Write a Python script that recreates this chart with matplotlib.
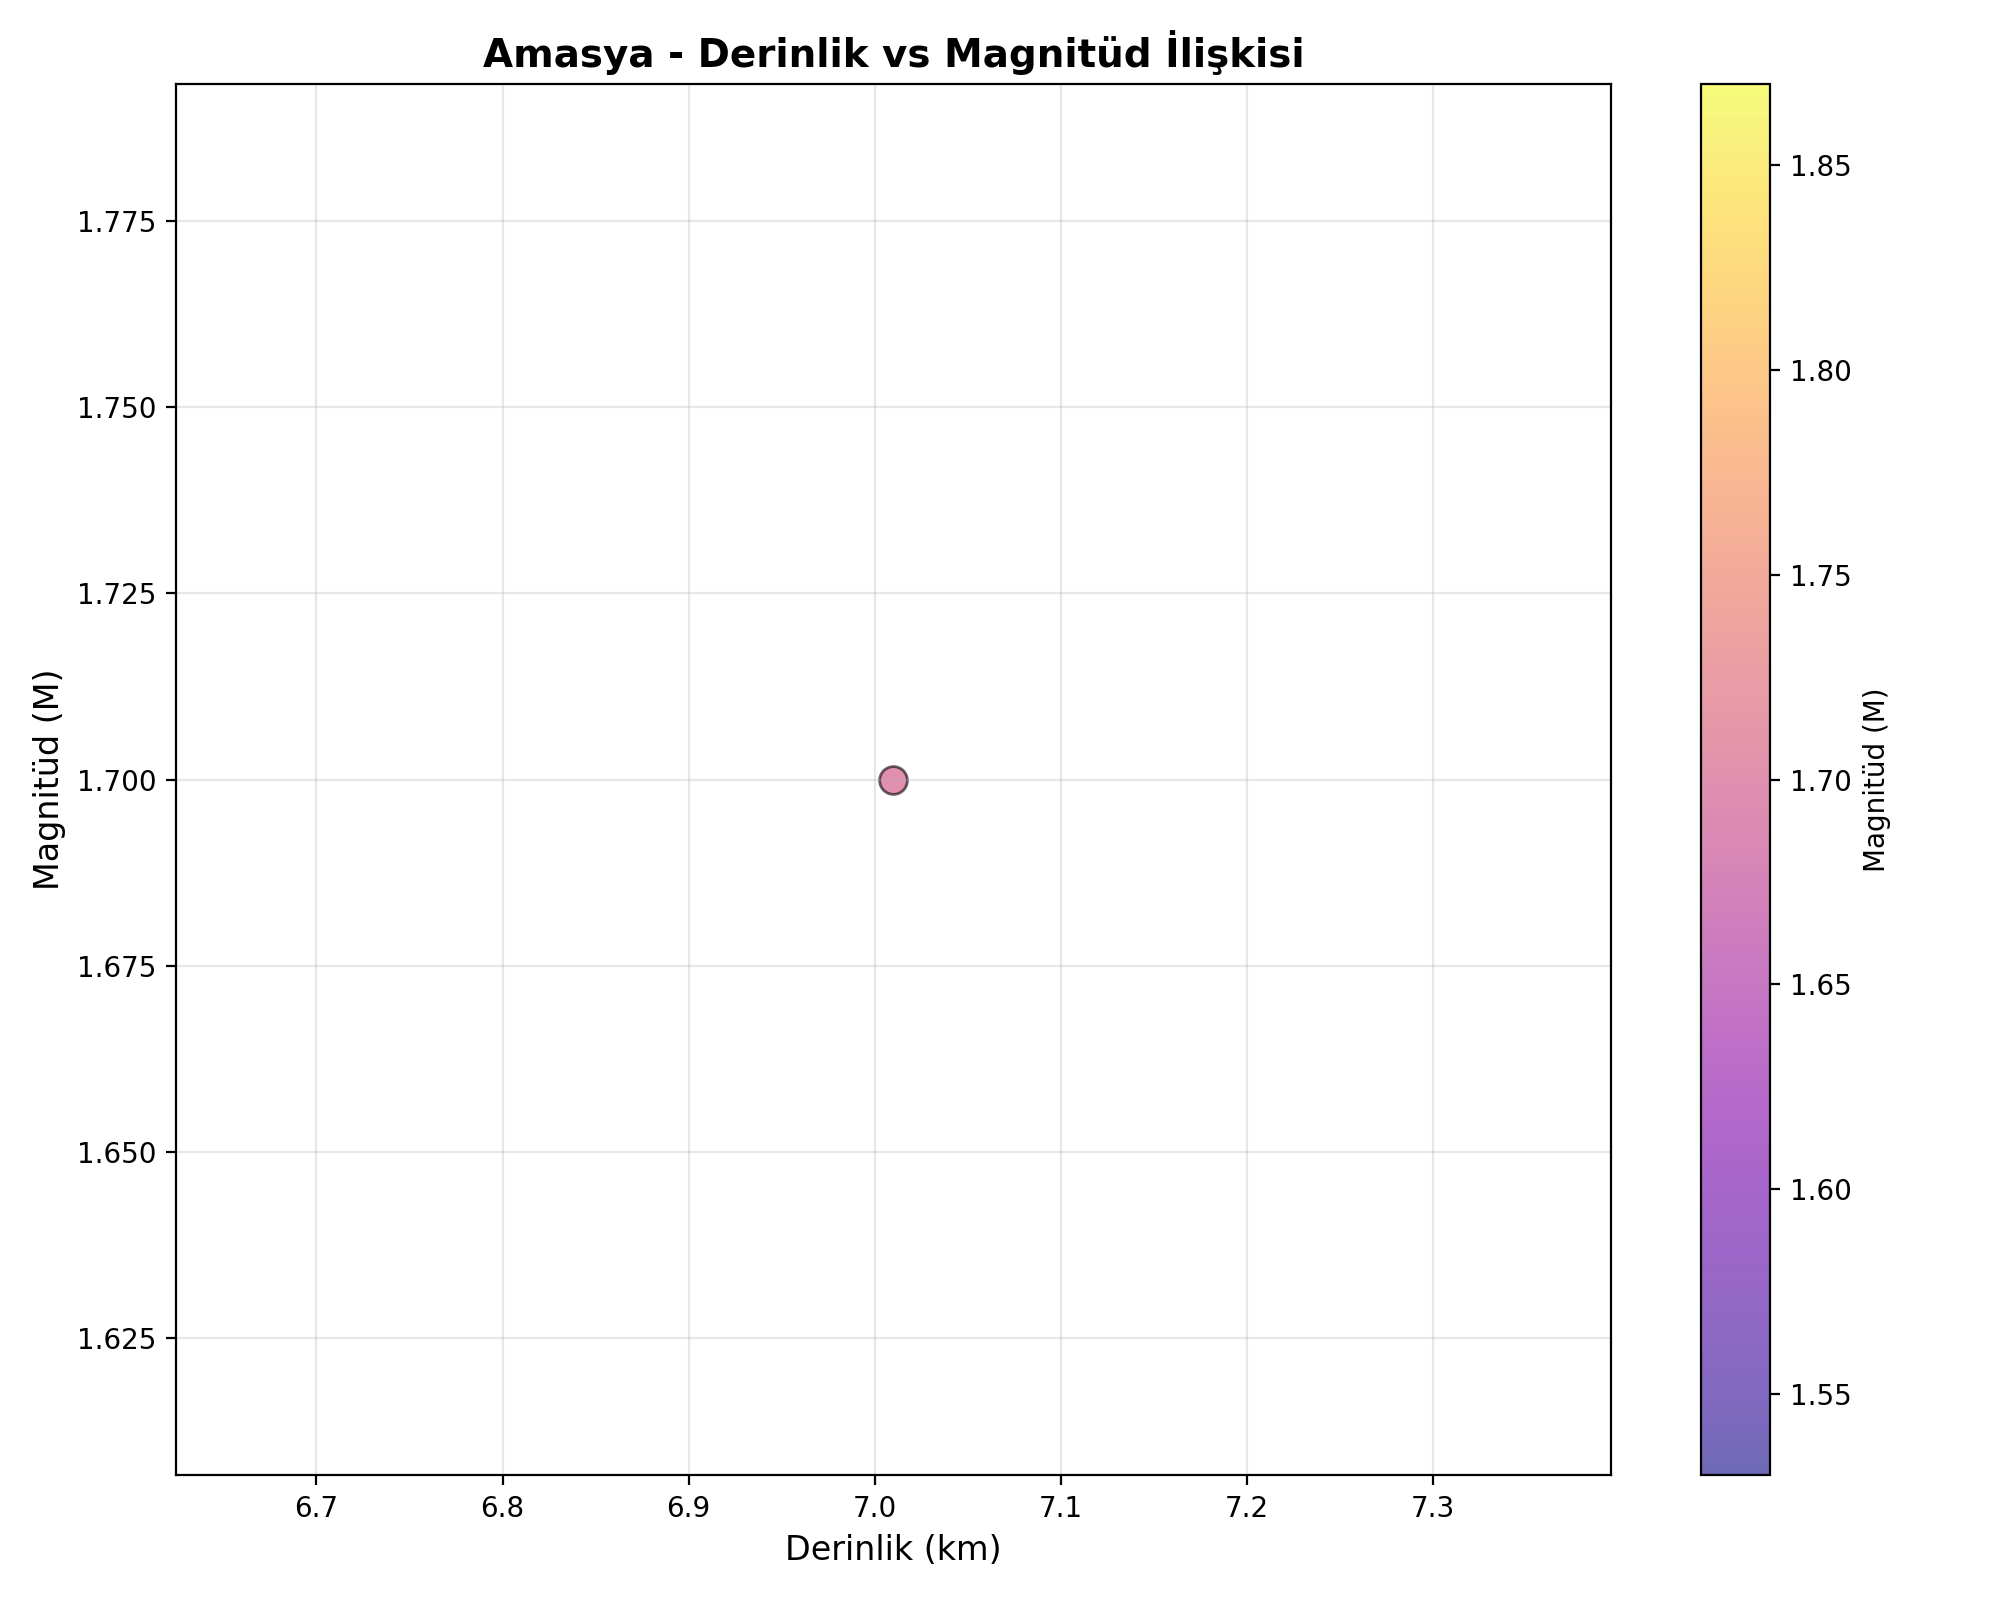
import numpy as np
import matplotlib
matplotlib.use("Agg")
import matplotlib.pyplot as plt

#--earthquake record for Amasya
depth_km = [7.01]
magnitude = [1.7]

fig, ax = plt.subplots(figsize=(10, 8))

sc = ax.scatter(depth_km, magnitude, c=magnitude, cmap="plasma",
                s=100, alpha=0.6, edgecolors="black", linewidth=1)

cbar = plt.colorbar(sc, ax=ax)
cbar.set_label("Magnitüd (M)")

ax.set_title("Amasya - Derinlik vs Magnitüd İlişkisi", fontsize=14, fontweight="bold")
ax.set_xlabel("Derinlik (km)", fontsize=12)
ax.set_ylabel("Magnitüd (M)", fontsize=12)
ax.grid(True, alpha=0.3)

plt.tight_layout()
plt.savefig("out.png", dpi=200)
